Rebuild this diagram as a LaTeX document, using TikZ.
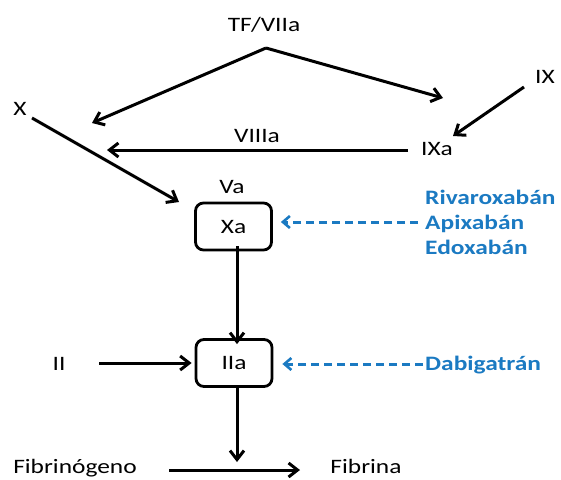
\documentclass[tikz,border=0pt]{standalone}
\usepackage{fontspec}
\setmainfont[FakeStretch=1.24]{Carlito}
\usetikzlibrary{arrows.meta}
\definecolor{drugblue}{RGB}{27,122,194}
\begin{document}
\begin{tikzpicture}[x=1pt,y=-1pt,
  every node/.style={inner sep=0pt,font=\fontsize{20.5}{24}\selectfont},
  lbl/.style={anchor=base},
  drug/.style={anchor=base west,text=drugblue,font=\fontsize{20.5}{24}\selectfont\bfseries},
  factor/.style={draw,line width=2.8pt,rounded corners=8pt,minimum width=76pt,minimum height=47pt},
  flow/.style={line width=3pt,-{Straight Barb[length=9pt,width=14pt,line width=3pt]}},
  block/.style={drugblue,line width=3pt,dash pattern=on 8.5pt off 4.5pt,-{Straight Barb[length=7pt,width=12pt,line width=2.6pt]}}]
\useasboundingbox (0,0) rectangle (561,479);

% labels
\node[lbl] (tf) at (264,31) {TF/VIIa};
\node[lbl] (x) at (20,115) {X};
\node[lbl] (ix) at (545,83) {IX};
\node[lbl] (viiia) at (257,142) {VIIIa};
\node[lbl] (ixa) at (437,155) {IXa};
\node[lbl] (va) at (232,193) {Va};
\node[lbl] (ii) at (59,370) {II};
\node[lbl] (fbg) at (75,473) {Fibrinógeno};
\node[lbl] (fbn) at (366,473) {Fibrina};

% boxed factors
\node[factor] (xa) at (233.5,226.5) {Xa};
\node[factor] (iia) at (234,363) {IIa};

% inhibitors
\node[drug] (riva) at (425,204) {Rivaroxabán};
\node[drug] (apix) at (425,229) {Apixabán};
\node[drug] (edox) at (425,254) {Edoxabán};
\node[drug] (dabi) at (425,370) {Dabigatrán};

% free ends of the connectors
\coordinate (apex) at (266,48);
\coordinate (tfL) at (92,123);
\coordinate (tfR) at (443,98);
\coordinate (xS) at (32,118);
\coordinate (xE) at (179,202);
\coordinate (ixS) at (524,87);
\coordinate (ixE) at (453,136);
\coordinate (viS) at (408,150);
\coordinate (viE) at (107,150);
\coordinate (iiS) at (99,363);
\coordinate (fS) at (169,470);
\coordinate (fE) at (300,470);
\coordinate (dwn) at (237,462);

% cascade
\draw[flow] (apex) -- (tfL);
\draw[flow] (apex) -- (tfR);
\draw[flow] (xS) -- (xE);
\draw[flow] (ixS) -- (ixE);
\draw[flow] (viS) -- (viE);
\draw[flow] ([xshift=3.5pt,yshift=5pt]xa.south) -- ([xshift=3pt,yshift=-6pt]iia.north);
\draw[flow] (iiS) -- ([xshift=-3pt]iia.west);
\draw[flow] ([xshift=3pt,yshift=1pt]iia.south) -- (dwn);
\draw[flow] (fS) -- (fE);

% inhibition
\draw[block] ([xshift=-7pt]apix.west |- 0,222) -- ([xshift=8pt]xa.east |- 0,222);
\draw[block] ([xshift=-2pt]dabi.west |- 0,364) -- ([xshift=9pt]iia.east |- 0,364);
\end{tikzpicture}
\end{document}
